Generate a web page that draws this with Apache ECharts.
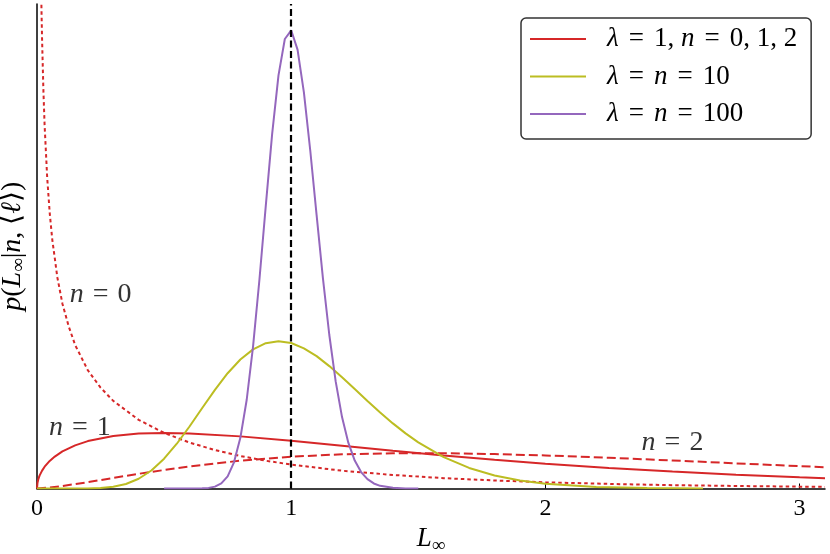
<!DOCTYPE html>
<html>
<head>
<meta charset="utf-8">
<script src="https://cdn.jsdelivr.net/npm/echarts@6.0.0/dist/echarts.min.js"></script>
<style>
  html, body { margin: 0; padding: 0; background: #fff; }
  #chart { width: 830px; height: 554px; }
</style>
</head>
<body>
<div id="chart"></div>
<script>
// values
const n0X = [0.012, 0.016, 0.018, 0.02, 0.025, 0.03, 0.04, 0.05, 0.06, 0.08, 0.1, 0.125, 0.15, 0.2, 0.25, 0.3, 0.4, 0.5, 0.6, 0.7, 0.8, 0.9, 1.0, 1.2, 1.4, 1.6, 1.8, 2.0, 2.25, 2.5, 2.75, 3.0, 3.1];
const n0Y = [5.12, 4.39, 4.13, 3.91, 3.48, 3.16, 2.71, 2.40, 2.17, 1.84, 1.61, 1.41, 1.25, 1.03, 0.879, 0.763, 0.598, 0.484, 0.400, 0.335, 0.283, 0.242, 0.208, 0.155, 0.118, 0.090, 0.070, 0.054, 0.040, 0.029, 0.022, 0.016, 0.014];

const n1X = [0, 0.002, 0.005, 0.01, 0.02, 0.03, 0.05, 0.07, 0.1, 0.15, 0.2, 0.3, 0.4, 0.5, 0.6, 0.8, 1.0, 1.2, 1.4, 1.6, 1.8, 2.0, 2.25, 2.5, 2.75, 3.0, 3.1];
const n1Y = [0, 0.050, 0.079, 0.112, 0.156, 0.190, 0.240, 0.278, 0.323, 0.376, 0.413, 0.458, 0.478, 0.484, 0.480, 0.454, 0.415, 0.372, 0.329, 0.288, 0.250, 0.216, 0.178, 0.147, 0.120, 0.097, 0.090];

const n2X = [0, 0.05, 0.1, 0.2, 0.3, 0.4, 0.5, 0.6, 0.8, 1.0, 1.2, 1.4, 1.5, 1.6, 1.8, 2.0, 2.25, 2.5, 2.75, 3.0, 3.1];
const n2Y = [0, 0.008, 0.022, 0.055, 0.092, 0.128, 0.161, 0.192, 0.242, 0.277, 0.298, 0.307, 0.308, 0.307, 0.300, 0.288, 0.268, 0.244, 0.219, 0.195, 0.185];

const tenX = [0, 0.1, 0.15, 0.2, 0.25, 0.3, 0.35, 0.4, 0.45, 0.5, 0.55, 0.6, 0.65, 0.7, 0.75, 0.8, 0.85, 0.9, 0.95, 1.0, 1.05, 1.1, 1.15, 1.2, 1.25, 1.3, 1.35, 1.4, 1.45, 1.5, 1.6, 1.7, 1.8, 1.9, 2.0, 2.2, 2.4, 2.62];
const tenY = [0, 0, 0.0001, 0.0009, 0.0044, 0.015, 0.039, 0.085, 0.157, 0.260, 0.390, 0.540, 0.701, 0.859, 1.004, 1.124, 1.212, 1.266, 1.283, 1.267, 1.221, 1.153, 1.066, 0.969, 0.866, 0.763, 0.662, 0.567, 0.480, 0.402, 0.273, 0.179, 0.113, 0.070, 0.042, 0.014, 0.004, 0.001];

const hundredX = [0.5, 0.6, 0.65, 0.675, 0.7, 0.725, 0.75, 0.775, 0.8, 0.825, 0.85, 0.875, 0.9, 0.925, 0.95, 0.975, 1.0, 1.025, 1.05, 1.075, 1.1, 1.125, 1.15, 1.175, 1.2, 1.225, 1.25, 1.275, 1.3, 1.325, 1.35, 1.4, 1.45, 1.5];
const hundredY = [0, 0.0001, 0.0015, 0.0054, 0.0165, 0.044, 0.106, 0.228, 0.441, 0.773, 1.238, 1.818, 2.461, 3.086, 3.598, 3.915, 3.991, 3.823, 3.451, 2.944, 2.381, 1.828, 1.337, 0.933, 0.622, 0.397, 0.243, 0.143, 0.081, 0.044, 0.023, 0.006, 0.001, 0.0003];

const xTicks = [0, 1, 2, 3];
const refLine = 1;

const legendNames = ['λ = 1, n = 0, 1, 2', 'λ = n = 10', 'λ = n = 100'];
const legendRich = ['{i|λ}{e|=}1, {i|n}{e|=}0, 1, 2', '{i|λ}{e|=}{i|n}{e|=}10', '{i|λ}{e|=}{i|n}{e|=}100'];

const noteX = [0.25, 0.169, 2.5];
const noteY = [1.69, 0.527, 0.396];
const noteText = ['{i|n}{e|=}0', '{i|n}{e|=}1', '{i|n}{e|=}2'];

const RED = '#d62728', OLIVE = '#bcbd22', PURPLE = '#9467bd';
const FONT = 'Liberation Serif';

const pairs = (xs, ys) => xs.map((x, i) => [x, ys[i]]);

const chart = echarts.init(document.getElementById('chart'));

const lineSeries = (name, xs, ys, color, type, z) => ({
  name, type: 'line', data: pairs(xs, ys), symbol: 'none', showSymbol: false,
  smooth: false, sampling: null, color,
  lineStyle: { color, width: 2, type }, z
});

// math-ish rich styles: italic letters, wider "=" spacing
const mathRich = (size, gap) => ({
  i: { fontStyle: 'italic', fontFamily: FONT, fontSize: size, color: '#000' },
  e: { fontFamily: FONT, fontSize: size, color: '#000', padding: [0, gap, 0, gap] }
});

const option = {
  animation: false,
  backgroundColor: '#fff',
  textStyle: { fontFamily: FONT, color: '#000' },
  grid: { left: 37, right: 5, top: 4, bottom: 65.5, outerBoundsMode: 'none', containLabel: false },
  legend: {
    data: legendNames.map(n => ({ name: n, icon: 'rect' })),
    orient: 'vertical',
    left: 521,
    top: 18,
    padding: [6, 14, 10, 9],
    itemWidth: 56,
    itemHeight: 2,
    itemGap: 7.5,
    borderColor: '#333',
    borderWidth: 1.5,
    borderRadius: 5,
    backgroundColor: '#fff',
    formatter: name => legendRich[legendNames.indexOf(name)],
    textStyle: {
      fontFamily: FONT,
      fontSize: 27,
      lineHeight: 30,
      color: '#000',
      padding: [0, 0, 0, 16],
      rich: mathRich(27, 10)
    }
  },
  xAxis: {
    type: 'value',
    min: 0,
    max: 3.1,
    interval: 1,
    name: '{i|L}{s|∞}',
    nameLocation: 'middle',
    nameGap: 29,
    nameTextStyle: {
      fontFamily: FONT,
      fontSize: 27,
      color: '#000',
      rich: {
        i: { fontStyle: 'italic', fontFamily: FONT, fontSize: 27 },
        s: { fontFamily: FONT, fontSize: 19, padding: [14, 0, 0, 0] }
      }
    },
    axisLine: { lineStyle: { color: '#000', width: 1.5 } },
    axisTick: { inside: true, length: 5, customValues: xTicks, lineStyle: { color: '#000', width: 1 } },
    axisLabel: { customValues: xTicks, fontFamily: FONT, fontSize: 24, color: '#000', margin: 8 },
    splitLine: { show: false }
  },
  yAxis: {
    type: 'value',
    min: 0,
    max: 4.22,
    name: '{i|p}({i|L}{s|∞}|{i|n}, ⟨{i|ℓ}⟩)',
    nameLocation: 'middle',
    nameGap: 8,
    nameTextStyle: {
      fontFamily: FONT,
      fontSize: 28,
      color: '#000',
      rich: {
        i: { fontStyle: 'italic', fontFamily: FONT, fontSize: 28 },
        s: { fontFamily: FONT, fontSize: 19, padding: [14, 0, 0, 0] }
      }
    },
    axisLine: { show: true, lineStyle: { color: '#000', width: 1.5 } },
    axisTick: { show: false },
    axisLabel: { show: false },
    splitLine: { show: false }
  },
  series: [
    lineSeries('n0', n0X, n0Y, RED, [3.5, 3], 2),
    lineSeries(legendNames[0], n1X, n1Y, RED, 'solid', 2),
    lineSeries('n2', n2X, n2Y, RED, [9, 4], 2),
    lineSeries(legendNames[1], tenX, tenY, OLIVE, 'solid', 3),
    Object.assign(lineSeries(legendNames[2], hundredX, hundredY, PURPLE, 'solid', 4), {
      markLine: {
        silent: true,
        symbol: ['none', 'none'],
        label: { show: false },
        lineStyle: { color: '#000', width: 2.2, type: [7, 3.5] },
        data: [{ xAxis: refLine }],
        z: 10
      }
    }),
    {
      name: 'notes', type: 'scatter', symbolSize: 0, silent: true,
      data: noteX.map((x, i) => ({ value: [x, noteY[i]], label: { formatter: noteText[i] } })),
      label: {
        show: true, position: 'inside', fontFamily: FONT, fontSize: 28, color: '#000',
        rich: mathRich(28, 9)
      },
      z: 6
    }
  ]
};

chart.setOption(option);
</script>
</body>
</html>
